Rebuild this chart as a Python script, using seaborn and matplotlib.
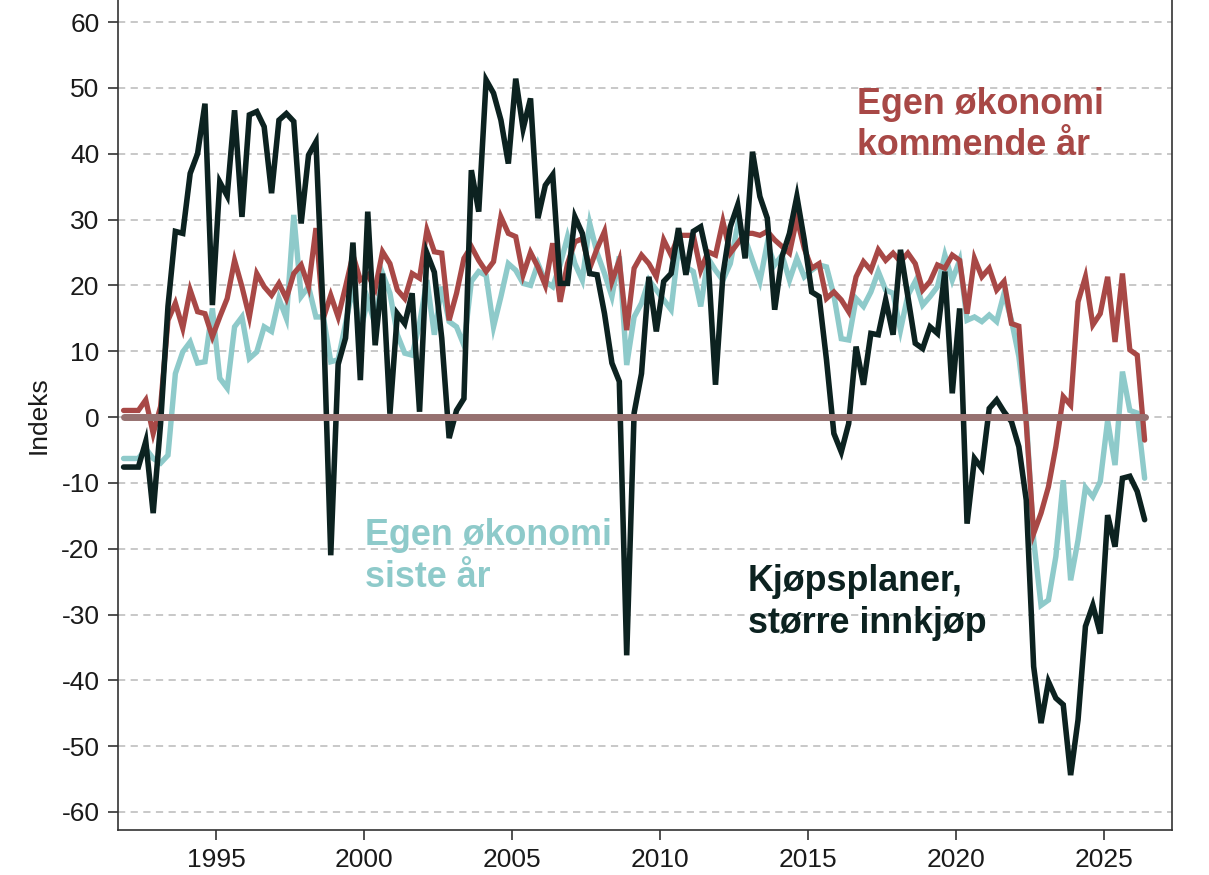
import numpy as np
import pandas as pd
import matplotlib
matplotlib.use("Agg")
import matplotlib.pyplot as plt
import seaborn as sns

# -----------------------------
# Data (quarterly, 1991Q4 - 2026Q2)
# -----------------------------
start_quarter = "1991Q4"
end_quarter = "2026Q2"

# Kjøpsplaner, større innkjøp
kjopsplaner = [
    -7.6,
    -7.6, -7.6, -3.7, -14.6,   # 1992
    -1.0, 16.8, 28.2, 27.9,    # 1993
    37.0, 40.0, 47.6, 17.0,    # 1994
    35.7, 33.6, 46.6, 30.4,    # 1995
    45.9, 46.4, 44.1, 34.0,    # 1996
    45.1, 46.1, 44.9, 29.4,    # 1997
    39.8, 41.8, 15.0, -21.0,   # 1998
    8.0, 12.0, 26.5, 5.6,      # 1999
    31.2, 10.9, 21.8, 0.5,     # 2000
    15.7, 14.2, 18.8, 0.8,     # 2001
    24.9, 22.0, 12.0, -3.2,    # 2002
    1.0, 2.8, 37.5, 31.2,      # 2003
    51.2, 49.2, 45.1, 38.5,    # 2004
    51.4, 43.8, 48.4, 30.2,    # 2005
    35.2, 36.8, 20.3, 20.3,    # 2006
    30.4, 27.9, 21.8, 21.6,    # 2007
    15.7, 8.2, 5.4, -36.2,     # 2008
    0.6, 6.6, 21.3, 13.0,      # 2009
    20.6, 21.8, 28.7, 21.6,    # 2010
    28.2, 28.9, 23.8, 4.9,     # 2011
    21.6, 28.9, 32.2, 24.1,    # 2012
    40.3, 33.5, 30.2, 16.3,    # 2013
    24.4, 27.9, 33.5, 26.9,    # 2014
    19.0, 18.3, 8.7, -2.5,     # 2015
    -5.3, -1.0, 10.7, 4.9,     # 2016
    12.7, 12.5, 17.8, 12.5,    # 2017
    25.4, 18.3, 11.2, 10.4,    # 2018
    13.7, 12.7, 22.1, 3.6,     # 2019
    16.5, -16.2, -6.3, -7.8,   # 2020
    1.3, 2.6, 0.8, -0.7,       # 2021
    -4.5, -12.6, -37.9, -46.5, # 2022
    -40.2, -42.7, -43.7, -54.4, # 2023
    -46.0, -31.8, -28.6, -32.9, # 2024
    -14.9, -19.7, -9.3, -9.0,  # 2025
    -11.3, -15.6,              # 2026
]

# Egen økonomi siste år
siste_aar = [
    -6.3,
    -6.3, -6.3, -4.8, -6.3,    # 1992
    -7.0, -5.8, 6.6, 9.9,      # 1993
    11.4, 8.2, 8.4, 16.5,      # 1994
    5.9, 4.4, 13.7, 15.2,      # 1995
    8.9, 9.9, 13.7, 13.0,      # 1996
    18.0, 15.0, 30.7, 18.3,    # 1997
    19.8, 15.2, 15.2, 8.4,     # 1998
    8.7, 14.2, 19.8, 13.0,     # 1999
    17.8, 14.0, 21.8, 18.8,    # 2000
    12.5, 9.7, 9.4, 14.2,      # 2001
    20.8, 12.5, 19.8, 14.5,    # 2002
    13.7, 10.9, 20.6, 22.1,    # 2003
    21.5, 13.7, 18.3, 23.3,    # 2004
    22.3, 20.3, 20.0, 23.3,    # 2005
    20.6, 19.8, 23.1, 27.4,    # 2006
    23.3, 20.8, 29.4, 24.9,    # 2007
    21.8, 18.3, 24.4, 7.9,     # 2008
    15.2, 17.3, 20.8, 19.3,    # 2009
    17.8, 16.3, 25.9, 22.8,    # 2010
    22.1, 16.8, 24.1, 22.3,    # 2011
    20.8, 23.3, 29.2, 27.1,    # 2012
    23.8, 20.6, 26.4, 23.1,    # 2013
    24.6, 20.8, 24.1, 21.3,    # 2014
    22.3, 23.1, 22.8, 18.5,    # 2015
    11.9, 11.7, 18.0, 16.8,    # 2016
    19.0, 22.1, 19.3, 18.8,    # 2017
    13.2, 18.5, 20.6, 17.0,    # 2018
    18.3, 19.8, 24.6, 20.8,    # 2019
    23.8, 14.7, 15.2, 14.5,    # 2020
    15.5, 14.5, 18.8, 14.7,    # 2021
    9.2, 0.0, -18.7, -28.6,    # 2022
    -27.8, -21.2, -9.6, -24.8, # 2023
    -18.7, -10.7, -12.1, -9.8, # 2024
    -0.5, -7.3, 6.9, 1.0,      # 2025
    0.6, -9.3,                 # 2026
]

# Egen økonomi kommende år
kommende_aar = [
    1.0,
    1.0, 1.0, 2.6, -2.5,       # 1992
    1.6, 14.7, 17.3, 13.5,     # 1993
    19.3, 16.0, 15.7, 12.2,    # 1994
    15.2, 18.0, 23.8, 19.8,    # 1995
    15.2, 21.8, 19.8, 18.5,    # 1996
    20.3, 18.0, 21.8, 23.1,    # 1997
    19.8, 28.7, 15.0, 18.5,    # 1998
    15.2, 19.8, 24.6, 20.8,    # 1999
    21.6, 19.5, 25.1, 23.3,    # 2000
    19.3, 18.0, 21.8, 21.1,    # 2001
    28.4, 25.1, 24.9, 14.7,    # 2002
    18.8, 24.1, 25.9, 23.8,    # 2003
    22.1, 23.6, 30.4, 27.9,    # 2004
    27.4, 21.6, 25.0, 22.8,    # 2005
    20.0, 26.4, 17.5, 23.3,    # 2006
    26.6, 27.1, 22.6, 25.6,    # 2007
    28.2, 20.6, 23.8, 13.2,    # 2008
    22.6, 24.6, 23.3, 21.3,    # 2009
    26.9, 24.6, 27.6, 27.6,    # 2010
    27.6, 22.3, 25.1, 24.6,    # 2011
    29.7, 24.9, 26.4, 27.9,    # 2012
    27.9, 27.6, 28.2, 26.9,    # 2013
    25.9, 24.9, 30.2, 25.6,    # 2014
    22.6, 23.3, 18.0, 19.0,    # 2015
    17.8, 16.0, 21.3, 23.6,    # 2016
    22.3, 25.4, 23.8, 24.9,    # 2017
    23.6, 24.9, 23.3, 19.3,    # 2018
    20.6, 23.1, 22.6, 24.6,    # 2019
    23.8, 15.7, 24.1, 21.3,    # 2020
    22.6, 19.3, 20.6, 14.2,    # 2021
    13.8, -1.0, -17.7, -14.6,  # 2022
    -10.6, -4.5, 3.1, 1.8,     # 2023
    17.5, 21.3, 14.0, 15.7,    # 2024
    21.3, 11.4, 21.8, 10.2,    # 2025
    9.4, -3.5,                 # 2026
]

# -----------------------------
# Build frame
# -----------------------------
quarters = pd.period_range(start_quarter, end_quarter, freq="Q")
t = quarters.year + (quarters.quarter - 1) / 4 + 0.125

df = pd.DataFrame({
    "t": t,
    "kjop": kjopsplaner,
    "siste": siste_aar,
    "kommende": kommende_aar,
})
df["null"] = 0.0

# colours
c_black = "#0c2220"
c_teal = "#8ecaca"
c_red = "#a84846"
c_zero = "#967170"

sns.set_theme(style="ticks")
plt.rcParams["font.family"] = ["Liberation Sans", "DejaVu Sans"]
plt.rcParams["axes.unicode_minus"] = False

fig = plt.figure(figsize=(12.09, 8.75), dpi=100)
ax = fig.add_axes([0.0972, 0.0514, 0.8722, 0.9486])

ax.yaxis.grid(True, color="#c4c4c4", linestyle=(0, (4, 3)), linewidth=1.3)
ax.set_axisbelow(True)

line_kw = dict(solid_joinstyle="miter", ax=ax)
sns.lineplot(data=df, x="t", y="siste", color=c_teal, linewidth=3.9, **line_kw)
sns.lineplot(data=df, x="t", y="kommende", color=c_red, linewidth=3.8, **line_kw)
sns.lineplot(data=df, x="t", y="kjop", color=c_black, linewidth=4.0, **line_kw)
sns.lineplot(data=df, x="t", y="null", color=c_zero, linewidth=5.0, ax=ax)

ax.set_xlim(1991.67, 2027.30)
ax.set_ylim(-62.74, 63.35)
ax.set_xticks([1995, 2000, 2005, 2010, 2015, 2020, 2025])
ax.set_yticks(np.arange(-60, 61, 10))
ax.tick_params(axis="both", labelsize=19, length=7, width=1.2,
               color="#333333", labelcolor="#1a1a1a", pad=6)
ax.set_xlabel("")
ax.set_ylabel("Indeks", fontsize=19, color="#1a1a1a", labelpad=8)

for side in ["left", "right", "bottom"]:
    ax.spines[side].set_color("#333333")
    ax.spines[side].set_linewidth(1.2)
ax.spines["top"].set_visible(False)

# -----------------------------
# Labels
# -----------------------------
lab = dict(fontsize=25.8, fontweight="bold", va="top", ha="left", linespacing=1.25)
ax.text(2016.64, 50.2, "Egen økonomi\nkommende år", color=c_red, **lab)
ax.text(2000.03, -15.4, "Egen økonomi\nsiste år", color=c_teal, **lab)
ax.text(2012.96, -22.3, "Kjøpsplaner,\nstørre innkjøp", color=c_black, **lab)

plt.savefig("out.png", dpi=100)
